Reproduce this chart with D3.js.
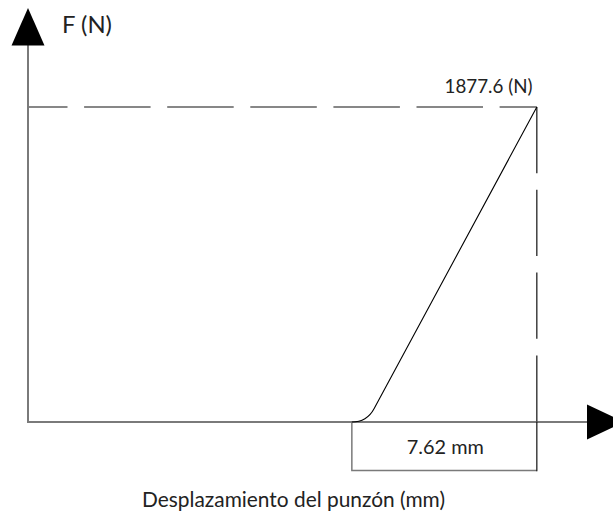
<!DOCTYPE html>
<html>
<head>
<meta charset="utf-8">
<script src="https://cdn.jsdelivr.net/npm/d3@7"></script>
<style>
  html, body { margin: 0; padding: 0; background: #fff; }
  svg { display: block; }
  text { font-family: "Lato", "Noto Sans", sans-serif; fill: #222; }
</style>
</head>
<body>
<svg id="chart" width="613" height="514"></svg>
<script>
// ---- data ----
const axisLabels = ["F (N)", "Desplazamiento del punzón (mm)"];
const peakForce = 1877.6;                 // N
const peakLabel = ["1877.6 (N)"];
const strokeLength = 7.62;                // mm
const strokeLabel = ["7.62 mm"];
const contactStart = 13.34;               // mm, where the punch touches the sheet
// force curve: contact point, corner of the fillet, peak
const curveX = [13.34, 13.96, 20.96];
const curveY = [0, 0, 1877.6];

// ---- layout ----
const svg = d3.select("#chart");
const x = d3.scaleLinear().domain([0, 23.15]).range([28, 590]);
const y = d3.scaleLinear().domain([0, peakForce]).range([422, 107]);

const axisColor = "#7a7a7a";
const x0 = x(0), y0 = y(0);

// axes
svg.append("line").attr("x1", x0).attr("x2", x0).attr("y1", y0).attr("y2", 44)
  .attr("stroke", axisColor).attr("stroke-width", 2);
svg.append("line").attr("x1", x0 - 1).attr("x2", 588).attr("y1", y0).attr("y2", y0)
  .attr("stroke", axisColor).attr("stroke-width", 2);

// arrow heads
svg.append("path").attr("d", `M${x0},8 L${x0 - 16.5},45.5 L${x0 + 16.5},45.5 Z`).attr("fill", "#000");
svg.append("path").attr("d", `M587,${y0 - 17.5} L624,${y0} L587,${y0 + 17.5} Z`).attr("fill", "#000");

// peak dashed lines
const xEnd = x(contactStart + strokeLength), yPeak = y(peakForce);
svg.append("line").attr("x1", x0 + 1).attr("x2", xEnd).attr("y1", yPeak).attr("y2", yPeak)
  .attr("stroke", "#111").attr("stroke-width", 1.2)
  .attr("stroke-dasharray", "66.5,16.6").attr("stroke-dashoffset", 28);
svg.append("line").attr("x1", xEnd).attr("x2", xEnd).attr("y1", yPeak).attr("y2", y0)
  .attr("stroke", "#111").attr("stroke-width", 1.2)
  .attr("stroke-dasharray", "66.2,16.6");

// stroke box
const xStart = x(contactStart);
const boxBottom = 470.5;
svg.append("path").attr("d", `M${xStart},${y0} L${xStart},${boxBottom} L${xEnd},${boxBottom}`)
  .attr("fill", "none").attr("stroke", axisColor).attr("stroke-width", 1.5);
svg.append("line").attr("x1", xEnd).attr("x2", xEnd).attr("y1", y0).attr("y2", boxBottom + 0.75)
  .attr("stroke", "#111").attr("stroke-width", 1.2);

// force curve with a rounded corner
const pts = curveX.map((v, i) => [x(v), y(curveY[i])]);
const p = d3.path();
p.moveTo(pts[0][0], pts[0][1]);
const dx = pts[2][0] - pts[1][0], dy = pts[2][1] - pts[1][1];
const L = Math.hypot(dx, dy), r = pts[1][0] - pts[0][0];
p.quadraticCurveTo(pts[1][0], pts[1][1], pts[1][0] + dx / L * r, pts[1][1] + dy / L * r);
p.lineTo(pts[2][0], pts[2][1]);
svg.append("path").attr("d", p.toString()).attr("fill", "none")
  .attr("stroke", "#000").attr("stroke-width", 1.1);

// texts, sized to the widths seen in the picture
function fitText(sel, target) {
  sel.attr("font-size", 100);
  const w = sel.node().getComputedTextLength();
  sel.attr("font-size", 100 * target / w);
}
fitText(svg.append("text").attr("x", 62).attr("y", 33).text(axisLabels[0]), 50);
fitText(svg.append("text").attr("x", 532.5).attr("y", 92.5).attr("text-anchor", "end").text(peakLabel[0]), 88);
fitText(svg.append("text").attr("x", (xStart + xEnd) / 2 + 1).attr("y", 453.5).attr("text-anchor", "middle").text(strokeLabel[0]), 77);
fitText(svg.append("text").attr("x", 293.5).attr("y", 506.5).attr("text-anchor", "middle").text(axisLabels[1]), 303);
</script>
</body>
</html>
